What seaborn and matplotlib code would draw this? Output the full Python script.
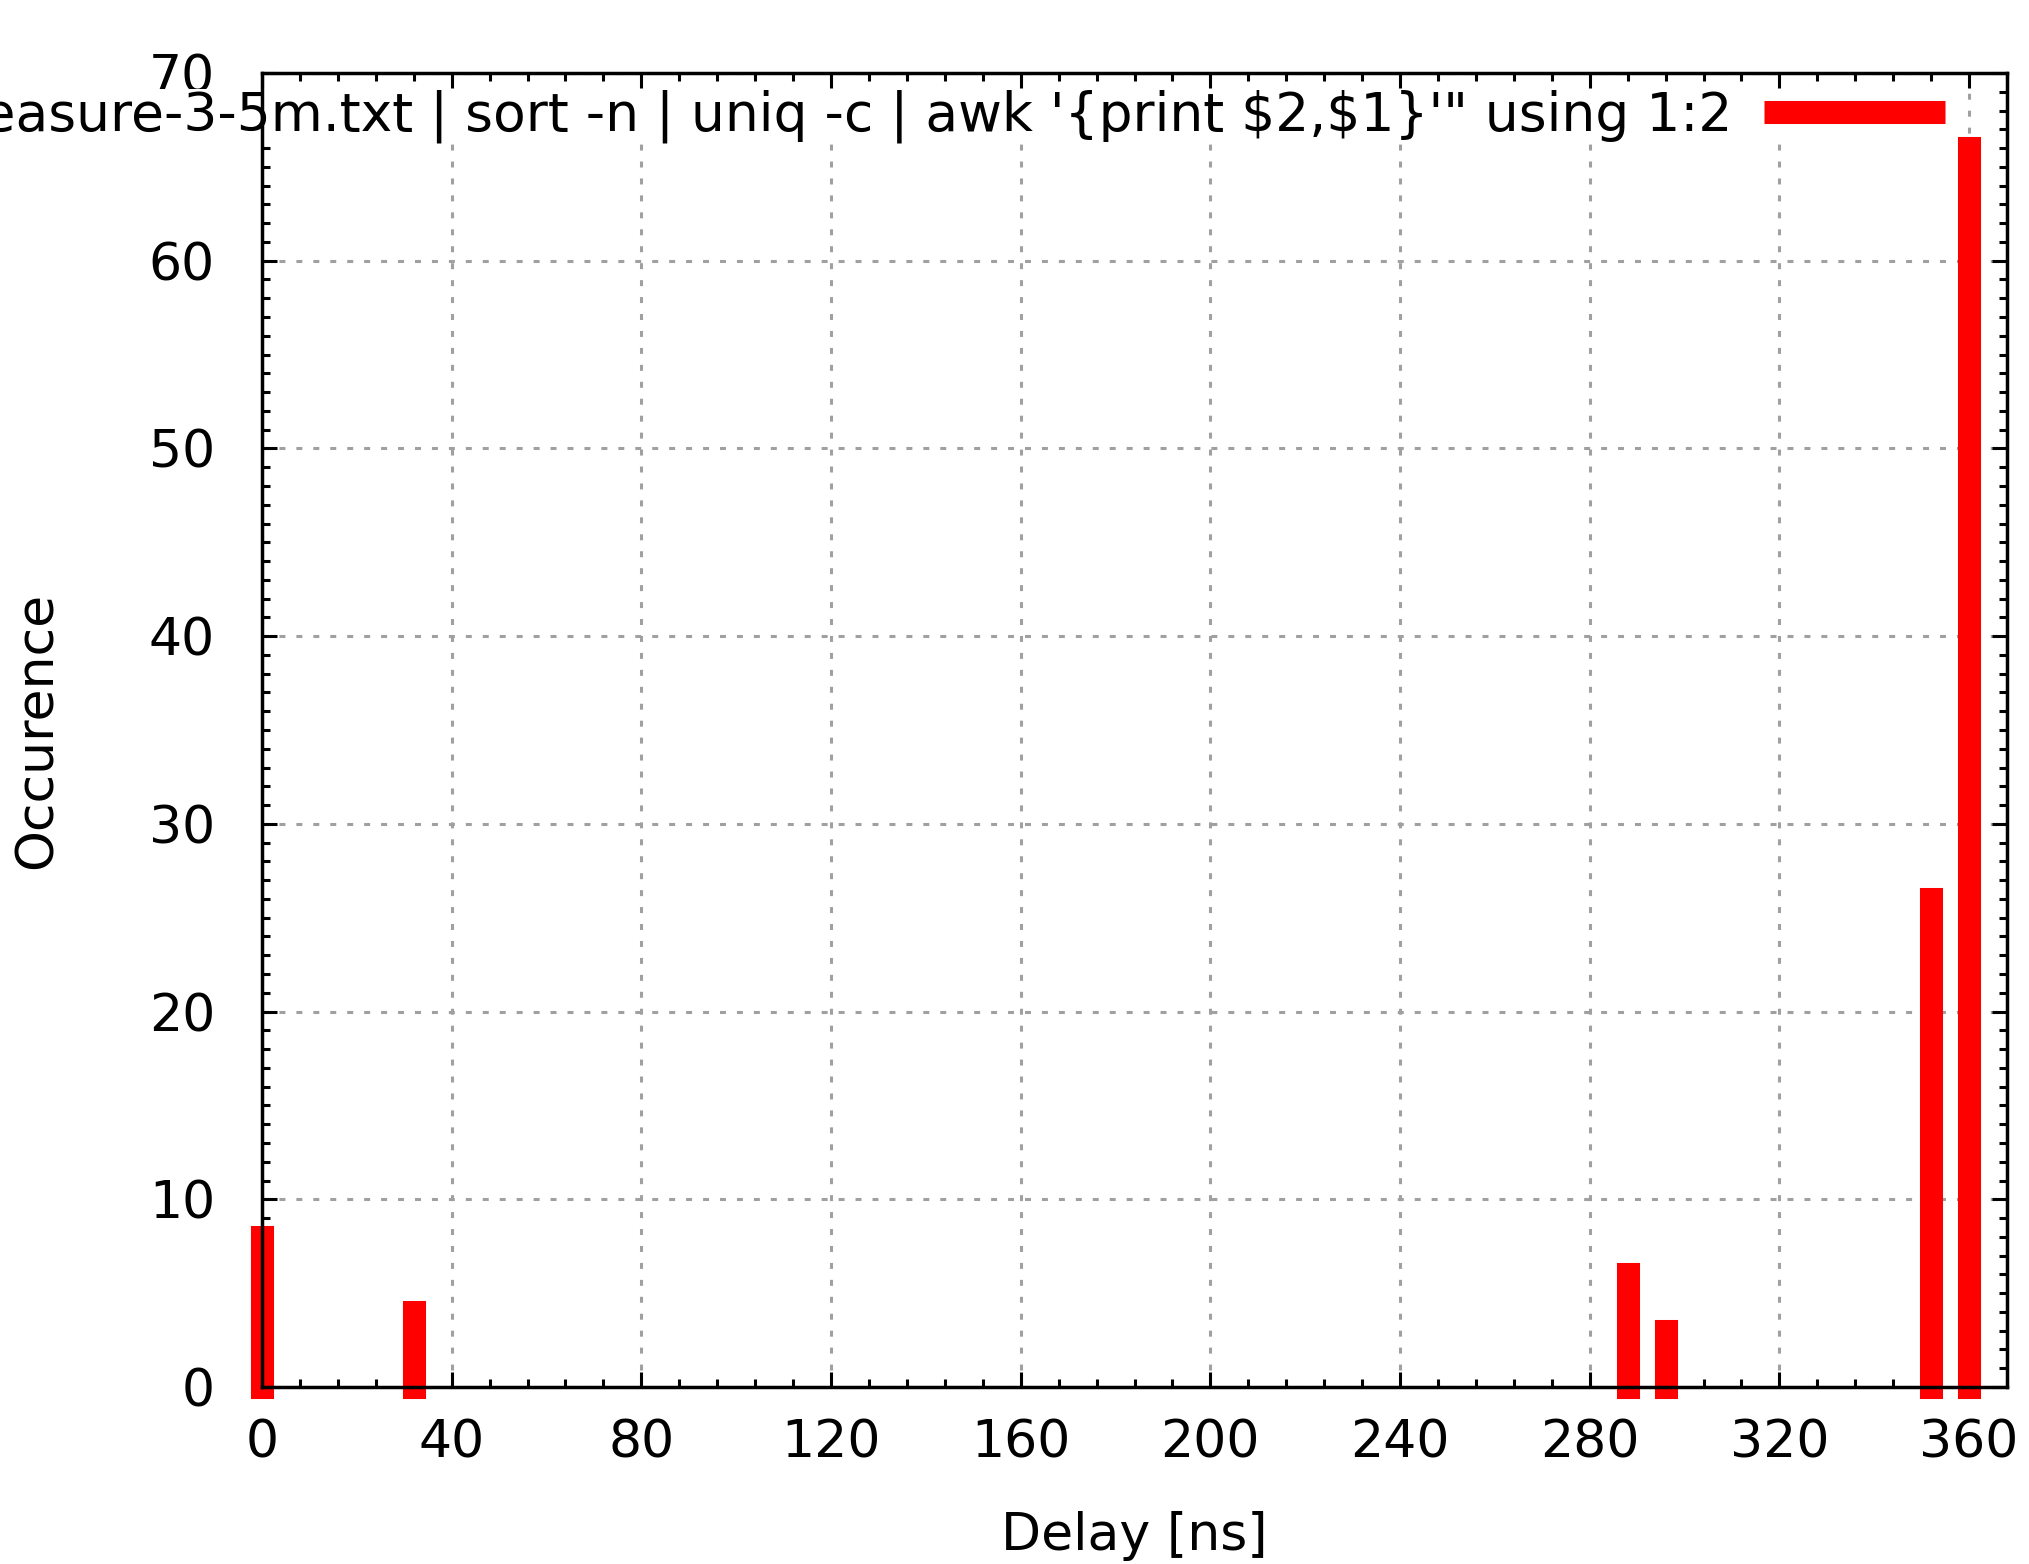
import numpy as np
import pandas as pd
import matplotlib
matplotlib.use("Agg")
import matplotlib.pyplot as plt
import seaborn as sns
from matplotlib.lines import Line2D
from matplotlib.ticker import MultipleLocator

# ==================================================
# DATA
# ==================================================

delay_ns = [0, 32, 288, 296, 352, 360]
occurence = [8, 4, 6, 3, 26, 66]

x_ticks = [0, 40, 80, 120, 160, 200, 240, 280, 320, 360]
y_ticks = [0, 10, 20, 30, 40, 50, 60, 70]

series_label = ("\"< cat measure-3-5m.txt | sort -n | uniq -c | "
                "awk '{print \\$2,\\$1}'\" using 1:2")

df = pd.DataFrame({"delay": delay_ns, "count": occurence})

# ==================================================
# STYLE
# ==================================================

sns.set_theme(style="ticks")
plt.rcParams["font.family"] = ["DejaVu Sans"]
plt.rcParams["lines.scale_dashes"] = False
plt.rcParams["text.color"] = "black"
plt.rcParams["axes.labelcolor"] = "black"

FS = 37.5
LEG_FS = 38.5
RED = "#ff0000"

fig = plt.figure(figsize=(20.29, 15.64), dpi=100)
W, H = 2029, 1564
ax = fig.add_axes([262 / W, 1 - 1387 / H, (2007 - 262) / W, (1387 - 73) / H])

# ==================================================
# IMPULSES
# ==================================================

bars = ax.vlines(df["delay"], 0, df["count"], colors=RED,
                 linewidth=16.6, zorder=2, clip_on=False)
bars.set_capstyle("projecting")

ax.set_xlim(0, 368)
ax.set_ylim(0, 70)
ax.set_xticks(x_ticks)
ax.set_yticks(y_ticks)
ax.xaxis.set_minor_locator(MultipleLocator(8))
ax.yaxis.set_minor_locator(MultipleLocator(1))

ax.grid(True, which="major", color="#a0a0a0", linewidth=2.2,
        linestyle=(0, (4.3, 7.9)))
ax.grid(False, which="minor")

for sp in ax.spines.values():
    sp.set_visible(True)
    sp.set_color("black")
    sp.set_linewidth(2.5)
    sp.set_zorder(4)

ax.tick_params(which="both", direction="in", top=True, right=True,
               color="black", width=2.2, labelcolor="black")
ax.tick_params(which="major", length=10.8, labelsize=FS)
ax.tick_params(which="minor", length=5.5)
ax.tick_params(axis="x", which="major", pad=23)
ax.tick_params(axis="y", which="major", pad=33.8)

ax.set_xlabel("Delay [ns]", fontsize=FS, color="black", labelpad=30)
ax.set_ylabel("Occurence", fontsize=FS, color="black", labelpad=62)

# ==================================================
# KEY
# ==================================================

handle = Line2D([], [], color=RED, linewidth=16.6, solid_capstyle="butt")
leg = ax.legend([handle], [series_label], loc="center right",
                bbox_to_anchor=(1945 / W, 1 - 116 / H),
                bbox_transform=fig.transFigure,
                markerfirst=False, handlelength=3.38, handletextpad=0.6,
                borderpad=0, borderaxespad=0, frameon=True, fancybox=False,
                framealpha=1, facecolor="white", edgecolor="white",
                fontsize=LEG_FS, labelcolor="black")
leg.get_frame().set_linewidth(0)
leg.set_zorder(3)

fig.savefig("out.png", dpi=100)
